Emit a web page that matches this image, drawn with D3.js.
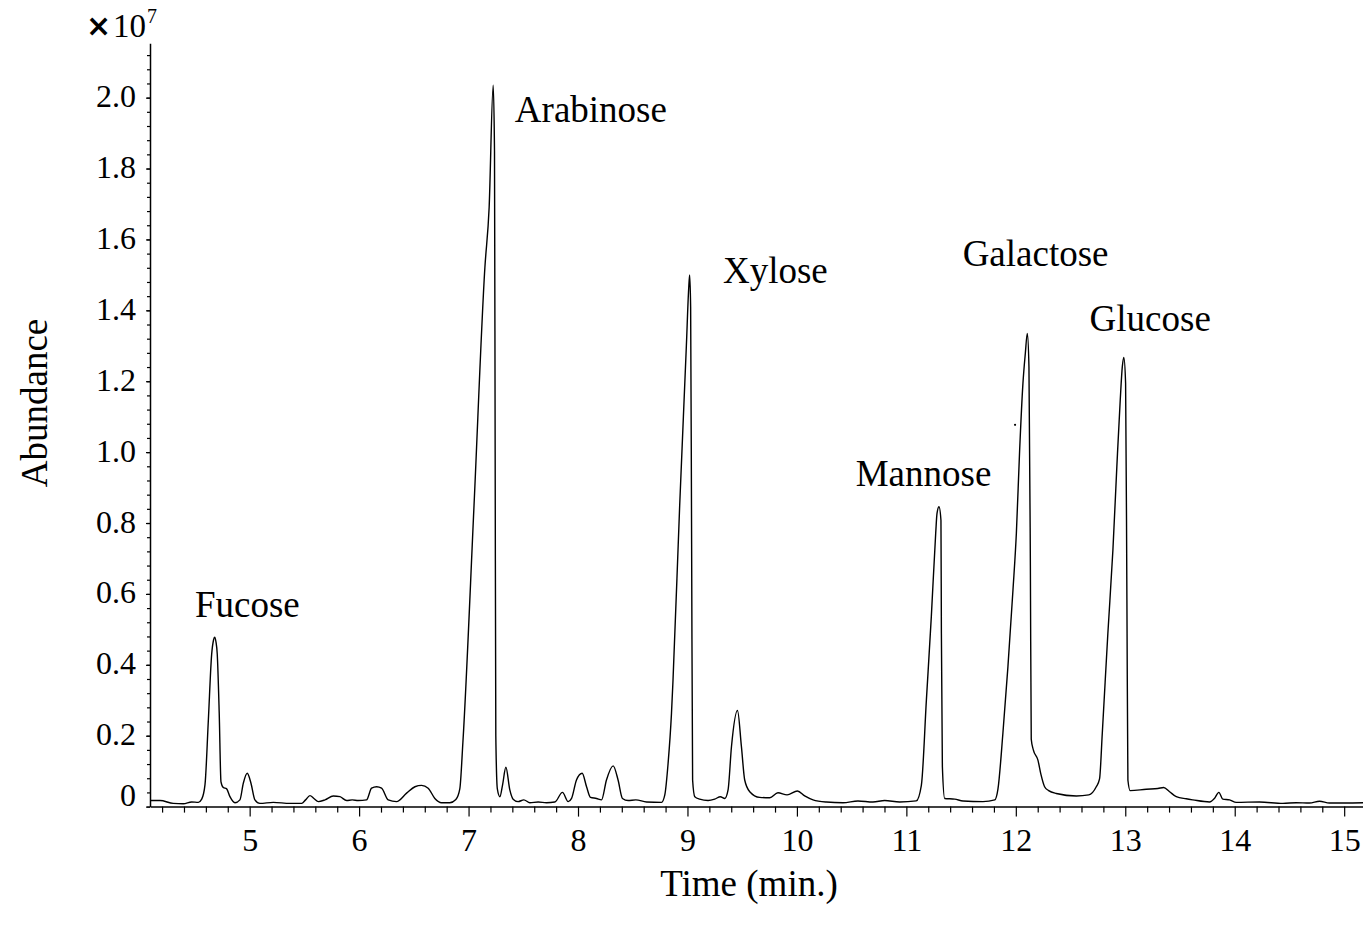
<!DOCTYPE html>
<html>
<head>
<meta charset="utf-8">
<script src="https://cdn.jsdelivr.net/npm/d3@7"></script>
<style>
  html, body { margin: 0; padding: 0; background: #fff; }
  svg { display: block; }
  text { font-family: "Liberation Serif", "Times New Roman", serif; fill: #000; }
</style>
</head>
<body>
<svg id="chart" width="1363" height="933"></svg>
<script>
// Retention time (min) of each sampled point of the chromatogram
const retentionTime = [
  4.090, 4.181, 4.302, 4.394, 4.470, 4.531, 4.562, 4.592, 4.622, 4.653, 4.670, 4.680, 4.692, 4.704, 4.722, 4.738,
  4.759, 4.790, 4.820, 4.866, 4.911, 4.942, 4.978, 5.012, 5.048, 5.094, 5.216, 5.368, 5.475, 5.511, 5.551, 5.587,
  5.627, 5.688, 5.764, 5.825, 5.886, 5.937, 5.992, 6.068, 6.114, 6.160, 6.205, 6.266, 6.342, 6.434, 6.510, 6.571,
  6.631, 6.692, 6.753, 6.829, 6.884, 6.920, 6.948, 7.050, 7.149, 7.188, 7.225, 7.237, 7.243, 7.249, 7.263, 7.286,
  7.310, 7.341, 7.377, 7.407, 7.453, 7.505, 7.560, 7.636, 7.712, 7.788, 7.858, 7.910, 7.941, 7.986, 8.038, 8.078,
  8.114, 8.169, 8.215, 8.260, 8.321, 8.366, 8.406, 8.458, 8.528, 8.626, 8.763, 8.793, 8.823, 8.854, 8.868, 8.929,
  8.990, 9.011, 9.020, 9.029, 9.038, 9.047, 9.067, 9.112, 9.188, 9.249, 9.301, 9.341, 9.371, 9.402, 9.457, 9.493,
  9.523, 9.569, 9.660, 9.752, 9.827, 9.910, 10.005, 10.071, 10.147, 10.269, 10.421, 10.558, 10.695, 10.802, 10.939, 11.090,
  11.137, 11.183, 11.228, 11.268, 11.280, 11.298, 11.316, 11.320, 11.329, 11.350, 11.442, 11.518, 11.700, 11.808, 11.837, 11.882,
  11.928, 11.974, 12.005, 12.035, 12.065, 12.087, 12.105, 12.120, 12.133, 12.141, 12.160, 12.202, 12.230, 12.263, 12.300, 12.370,
  12.553, 12.667, 12.735, 12.765, 12.790, 12.841, 12.887, 12.923, 12.954, 12.973, 12.987, 13.003, 13.015, 13.024, 13.045, 13.192,
  13.298, 13.350, 13.405, 13.466, 13.557, 13.617, 13.770, 13.815, 13.855, 13.891, 13.953, 14.014, 14.227, 14.440, 14.562, 14.683,
  14.775, 14.866, 15.172
];
// Abundance (x 10^7) at each retention time
const abundance = [
  0.017, 0.017, 0.009, 0.008, 0.013, 0.012, 0.021, 0.062, 0.240, 0.430, 0.470, 0.478, 0.465, 0.430, 0.263, 0.070,
  0.054, 0.050, 0.028, 0.011, 0.019, 0.066, 0.094, 0.066, 0.019, 0.009, 0.012, 0.009, 0.009, 0.019, 0.031, 0.023,
  0.014, 0.019, 0.030, 0.028, 0.017, 0.019, 0.017, 0.019, 0.052, 0.056, 0.052, 0.019, 0.014, 0.038, 0.056, 0.060,
  0.052, 0.023, 0.011, 0.011, 0.020, 0.050, 0.180, 0.850, 1.520, 1.690, 2.035, 1.850, 1.000, 0.200, 0.050, 0.028,
  0.060, 0.111, 0.047, 0.021, 0.014, 0.019, 0.011, 0.013, 0.011, 0.013, 0.040, 0.014, 0.023, 0.075, 0.094, 0.056,
  0.026, 0.023, 0.019, 0.075, 0.115, 0.075, 0.023, 0.017, 0.019, 0.013, 0.012, 0.033, 0.122, 0.263, 0.357, 0.850,
  1.300, 1.460, 1.500, 1.410, 0.740, 0.075, 0.028, 0.021, 0.017, 0.021, 0.028, 0.023, 0.047, 0.169, 0.271, 0.169,
  0.075, 0.042, 0.026, 0.025, 0.039, 0.033, 0.044, 0.030, 0.019, 0.013, 0.011, 0.016, 0.013, 0.017, 0.013, 0.016,
  0.060, 0.301, 0.536, 0.771, 0.827, 0.846, 0.808, 0.489, 0.113, 0.023, 0.021, 0.016, 0.014, 0.019, 0.050, 0.207,
  0.395, 0.611, 0.771, 1.006, 1.194, 1.279, 1.335, 1.241, 0.677, 0.190, 0.160, 0.131, 0.090, 0.056, 0.045, 0.037,
  0.030, 0.033, 0.056, 0.078, 0.207, 0.489, 0.724, 0.959, 1.147, 1.241, 1.267, 1.194, 0.583, 0.075, 0.045, 0.049,
  0.051, 0.054, 0.042, 0.028, 0.022, 0.019, 0.013, 0.023, 0.040, 0.021, 0.019, 0.012, 0.013, 0.009, 0.011, 0.010,
  0.015, 0.010, 0.011
];

// Peak annotations: name, anchor time, anchor abundance (x 10^7)
const peakNames = ["Fucose", "Arabinose", "Xylose", "Mannose", "Galactose", "Glucose"];
const peakLabelTime = [4.50, 7.423, 9.324, 10.537, 11.514, 12.674];
const peakLabelAbundance = [0.535, 1.931, 1.477, 0.904, 1.525, 1.342];

// Axis ticks
const xMajorTicks = [5, 6, 7, 8, 9, 10, 11, 12, 13, 14, 15];
const yMajorTicks = [0, 0.2, 0.4, 0.6, 0.8, 1.0, 1.2, 1.4, 1.6, 1.8, 2.0];
const yTickLabels = ["0", "0.2", "0.4", "0.6", "0.8", "1.0", "1.2", "1.4", "1.6", "1.8", "2.0"];
const xDomain = [4.0895, 15.172];
const yDomain = [0, 2.1533];

// stray speck in the original figure
const speckTime = [11.993];
const speckAbundance = [1.077];

const svg = d3.select("#chart");
const x = d3.scaleLinear().domain(xDomain).range([150, 1363]);
const y = d3.scaleLinear().domain(yDomain).range([806.6, 43.3]);

const xMinor = d3.range(42, 152, 2).map(d => d / 10).filter(d => d >= xDomain[0] && d <= xDomain[1] && !xMajorTicks.includes(d));
const yMinor = d3.range(0, 54).map(d => +(d * 0.04).toFixed(2)).filter(d => d <= yDomain[1]);

// minor ticks x
const gxMinor = svg.append("g").attr("transform", "translate(0,806.6)")
  .call(d3.axisBottom(x).tickValues(xMinor).tickSize(6).tickFormat(""));
gxMinor.select(".domain").remove();

// major x axis
const gx = svg.append("g").attr("transform", "translate(0,806.6)")
  .call(d3.axisBottom(x).tickValues(xMajorTicks).tickSize(10).tickSizeOuter(0).tickFormat(d3.format("d")));
gx.selectAll("text").attr("y", 44).attr("dy", 0).style("font-size", "32px")
  .style("font-family", "'Liberation Serif', 'Times New Roman', serif");

// y minor
const gyMinor = svg.append("g").attr("transform", "translate(150,0)")
  .call(d3.axisLeft(y).tickValues(yMinor).tickSize(3).tickFormat(""));
gyMinor.select(".domain").remove();

const gy = svg.append("g").attr("transform", "translate(150,0)")
  .call(d3.axisLeft(y).tickValues(yMajorTicks).tickSize(4).tickSizeOuter(0)
    .tickFormat((d, i) => yTickLabels[i]));
gy.selectAll("text").attr("x", -14).attr("dy", 0)
  .attr("y", d => d === 0 ? -1 : 9)
  .style("font-size", "32px")
  .style("font-family", "'Liberation Serif', 'Times New Roman', serif");

svg.selectAll(".domain").attr("stroke", "#000").attr("stroke-width", 1.5);
svg.selectAll(".tick line").attr("stroke", "#000").attr("stroke-width", 1.2);

// chromatogram trace
const pts = retentionTime.map((t, i) => [t, abundance[i]]);
const line = d3.line().x(d => x(d[0])).y(d => y(d[1])).curve(d3.curveMonotoneX);
svg.append("path").datum(pts)
  .attr("d", line)
  .attr("fill", "none")
  .attr("stroke", "#000")
  .attr("stroke-width", 1.4)
  .attr("stroke-linejoin", "round");

svg.selectAll("circle.speck").data(speckTime).enter().append("circle")
  .attr("class", "speck")
  .attr("cx", (d) => x(d)).attr("cy", (d, i) => y(speckAbundance[i])).attr("r", 1.1).attr("fill", "#000");

// peak labels
svg.selectAll("text.peak").data(peakNames).enter().append("text")
  .attr("class", "peak")
  .attr("x", (d, i) => x(peakLabelTime[i]))
  .attr("y", (d, i) => y(peakLabelAbundance[i]))
  .style("font-size", "37px")
  .text(d => d);

// axis titles
svg.append("text").attr("x", 749).attr("y", 896).attr("text-anchor", "middle")
  .style("font-size", "37px").text("Time (min.)");
svg.append("text").attr("transform", "translate(47,403) rotate(-90)").attr("text-anchor", "middle")
  .style("font-size", "37px").text("Abundance");

// scale factor
svg.append("text").attr("x", 86).attr("y", 36).style("font-size", "30px")
  .style("font-family", "'DejaVu Sans', sans-serif").style("font-weight", "bold").text("\u00d7");
svg.append("text").attr("x", 113).attr("y", 37).style("font-size", "33px").text("10");
svg.append("text").attr("x", 147).attr("y", 23).style("font-size", "20px").text("7");
</script>
</body>
</html>
